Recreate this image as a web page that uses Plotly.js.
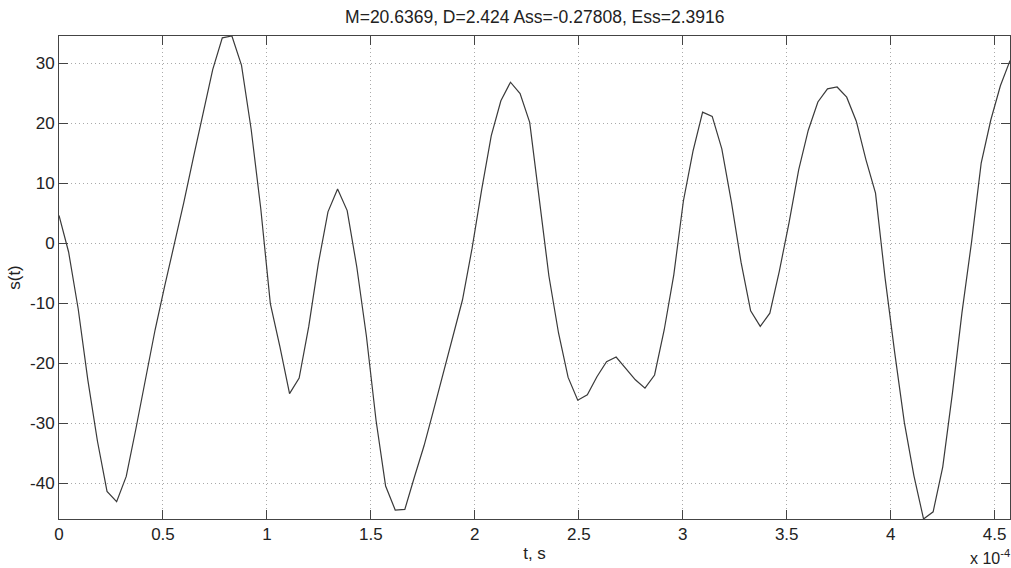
<!DOCTYPE html>
<html>
<head>
<meta charset="utf-8">
<script src="https://cdn.plot.ly/plotly-3.0.1.min.js"></script>
<style>
html,body{margin:0;padding:0;background:#fff;}
#chart{width:1011px;height:568px;}
</style>
</head>
<body>
<div id="chart"></div>
<script>
// sampling interval, in units of 1e-4 s
const dtE4 = 0.0462;
// signal samples s(t)
const sValues = [
  4.6, -1.5, -11.0, -22.8, -33.0, -41.4, -43.1, -38.9, -31.0, -22.6,
  -14.5, -7.2, -0.4, 6.8, 14.3, 21.7, 28.9, 34.2, 34.5, 29.6,
  19.0, 5.8, -10.1, -17.3, -25.1, -22.5, -13.9, -3.4, 5.2, 9.0,
  5.4, -4.0, -15.5, -29.5, -40.5, -44.5, -44.4, -39.0, -33.8, -27.8,
  -21.7, -15.5, -9.5, -0.9, 8.9, 17.9, 23.7, 26.8, 24.9, 20.1,
  7.0, -5.5, -15.0, -22.4, -26.2, -25.3, -22.3, -19.8, -19.0, -20.9,
  -22.8, -24.2, -22.0, -14.5, -5.3, 7.0, 15.3, 21.8, 21.1, 15.7,
  6.8, -3.2, -11.3, -13.9, -11.7, -4.6, 3.4, 12.2, 18.8, 23.5,
  25.7, 26.0, 24.3, 20.3, 13.9, 8.3, -5.9, -18.3, -29.9, -38.8,
  -46.0, -44.8, -37.3, -25.1, -11.6, 0.2, 13.3, 20.5, 26.2, 30.4
];
const xTickVals = [0, 0.5, 1, 1.5, 2, 2.5, 3, 3.5, 4, 4.5];
const xTickText = ['0', '0.5', '1', '1.5', '2', '2.5', '3', '3.5', '4', '4.5'];
const yTickVals = [-40, -30, -20, -10, 0, 10, 20, 30];
const yTickText = ['-40', '-30', '-20', '-10', '0', '10', '20', '30'];
const titleText = 'M=20.6369, D=2.424 Ass=-0.27808, Ess=2.3916';

const tE4 = sValues.map((_, i) => i * dtE4);
const sMin = Math.min(...sValues), sMax = Math.max(...sValues);

const fontFam = '"Liberation Sans", Arial, Helvetica, sans-serif';
const axisCommon = {
  showline: true, linecolor: '#444', linewidth: 1, mirror: 'ticks',
  ticks: 'inside', ticklen: 9, tickwidth: 1, tickcolor: '#444',
  showgrid: true, gridcolor: '#aaa', gridwidth: 1, griddash: '1px,3px',
  zeroline: false, tickmode: 'array',
  tickfont: {family: fontFam, size: 17, color: '#222'}
};

const trace = {
  x: tE4, y: sValues, type: 'scatter', mode: 'lines',
  line: {color: '#3a3a3a', width: 1.2}, hoverinfo: 'none'
};

const layout = {
  width: 1011, height: 568,
  paper_bgcolor: '#fff', plot_bgcolor: '#fff',
  margin: {l: 59, r: 1, t: 36, b: 49},
  showlegend: false,
  title: {text: titleText, x: 0.529, xanchor: 'center', y: 0.971, yanchor: 'middle',
          font: {family: fontFam, size: 17.5, color: '#222'}},
  xaxis: Object.assign({}, axisCommon, {
    range: [0, tE4[tE4.length - 1]], tickvals: xTickVals, ticktext: xTickText,
    title: {text: 't, s', font: {family: fontFam, size: 17, color: '#222'}, standoff: 3}
  }),
  yaxis: Object.assign({}, axisCommon, {
    range: [sMin, sMax], tickvals: yTickVals, ticktext: yTickText,
    title: {text: 's(t)', font: {family: fontFam, size: 17, color: '#222'}, standoff: 5}
  }),
  annotations: [{
    xref: 'paper', yref: 'paper', x: 1, y: 0, xanchor: 'right', yanchor: 'top',
    yshift: -26, xshift: 2, text: 'x 10<sup>-4</sup>', showarrow: false,
    font: {family: fontFam, size: 16, color: '#222'}
  }]
};

Plotly.newPlot('chart', [trace], layout, {staticPlot: true, displayModeBar: false});
</script>
</body>
</html>
